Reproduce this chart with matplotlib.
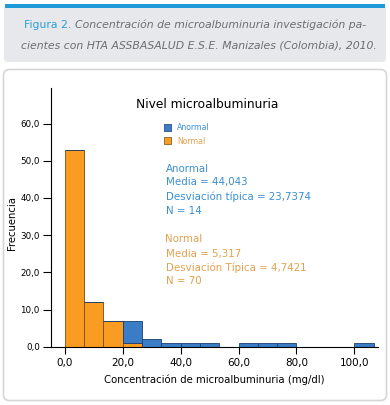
import matplotlib
matplotlib.use("Agg")
import matplotlib.pyplot as plt
import numpy as np
from matplotlib.patches import FancyBboxPatch, Rectangle
from matplotlib.ticker import FuncFormatter

# bins de ancho 20/3 empezando en 0
bin_edges = [i * 20 / 3 for i in range(17)]
normal_counts = [53, 12, 7, 1, 0, 0, 0, 0, 0, 0, 0, 0, 0, 0, 0, 0]
anormal_counts = [0, 0, 0, 6, 2, 1, 1, 1, 0, 1, 1, 1, 0, 0, 0, 1]

y_ticks = [0, 10, 20, 30, 40, 50, 60]
x_ticks = [0, 20, 40, 60, 80, 100]

anormal_stats = ["Anormal", "Media = 44,043", "Desviación típica = 23,7374", "N = 14"]
normal_stats = ["Normal", "Media = 5,317", "Desviación Típica = 4,7421", "N = 70"]

orange = "#f89c22"
blue = "#3a7cc6"
txt_blue = "#3a8fd2"
txt_orange = "#e3a14e"

W, H = 390, 405
fig = plt.figure(figsize=(W / 100, H / 100), dpi=100)
fig.patch.set_facecolor("white")

# fondo en coordenadas de pixel
bg = fig.add_axes([0, 0, 1, 1])
bg.set_xlim(0, W)
bg.set_ylim(H, 0)
bg.axis("off")

bg.add_patch(FancyBboxPatch((4, 6), 382, 56, boxstyle="round,pad=0,rounding_size=4",
                            facecolor="#e7e8ec", edgecolor="none"))
bg.add_patch(Rectangle((5, 4), 380, 3.5, facecolor="#1e9ad8", edgecolor="none"))
bg.add_patch(FancyBboxPatch((3.5, 69.5), 383, 331, boxstyle="round,pad=0,rounding_size=6",
                            facecolor="white", edgecolor="#d6d6d6", linewidth=1.2))

cap_fs = 7.8
t1 = bg.text(24, 25, "Figura 2. ", color="#2b9fd8", fontsize=cap_fs, va="center")
bg.annotate("Concentración de microalbuminuria investigación pa-", xy=(1, 0.5),
            xycoords=t1, va="center", ha="left", fontsize=cap_fs, style="italic",
            color="#6e6e6e")
bg.text(21, 45, "cientes con HTA ASSBASALUD E.S.E. Manizales (Colombia), 2010.",
        fontsize=cap_fs, style="italic", color="#6e6e6e", va="center")

# titulo, leyenda y estadisticos
bg.text(207, 104, "Nivel microalbuminuria", fontsize=8.8, ha="center", va="center")
bg.add_patch(Rectangle((164, 124), 7, 7, facecolor=blue, edgecolor="#1c3e6e", linewidth=0.5))
bg.add_patch(Rectangle((164, 137), 7, 7, facecolor=orange, edgecolor="#7a4a12", linewidth=0.5))
bg.text(177, 128, "Anormal", fontsize=5.6, color=txt_blue, va="center")
bg.text(177, 141, "Normal", fontsize=5.6, color=txt_orange, va="center")
for i, s in enumerate(anormal_stats):
    bg.text(165.5, 168.5 + i * 14, s, fontsize=7.4, color=txt_blue, va="center")
for i, s in enumerate(normal_stats):
    bg.text(165.5, 239.5 + i * 14, s, fontsize=7.4, color=txt_orange, va="center")

# histograma
ax = fig.add_axes([51 / W, 1 - 346.7 / H, (378 - 51) / W, (346.7 - 88.3) / H])
ax.set_facecolor("none")
left = np.array(bin_edges[:-1])
width = np.diff(bin_edges)
ax.bar(left, normal_counts, width=width, align="edge", color=orange,
       edgecolor="#7a4a12", linewidth=0.6)
ax.bar(left, anormal_counts, width=width, bottom=normal_counts, align="edge",
       color=blue, edgecolor="#1c3e6e", linewidth=0.6)

ax.set_xlim(-4.8, 108.2)
ax.set_ylim(0, 69.5)
ax.set_xticks(x_ticks)
ax.set_yticks(y_ticks)
fmt = FuncFormatter(lambda v, p: f"{v:.1f}".replace(".", ","))
ax.xaxis.set_major_formatter(fmt)
ax.yaxis.set_major_formatter(fmt)
ax.tick_params(axis="x", labelsize=7.5, length=5, pad=3)
ax.tick_params(axis="y", labelsize=6.3, length=6, pad=2)
ax.spines["top"].set_visible(False)
ax.spines["right"].set_visible(False)
ax.set_xlabel("Concentración de microalbuminuria (mg/dl)", fontsize=7.3, labelpad=5)
ax.set_ylabel("Frecuencia", fontsize=7.3)
ax.yaxis.set_label_coords(-0.104, 0.48)

fig.savefig("out.png", dpi=100, facecolor="white")
